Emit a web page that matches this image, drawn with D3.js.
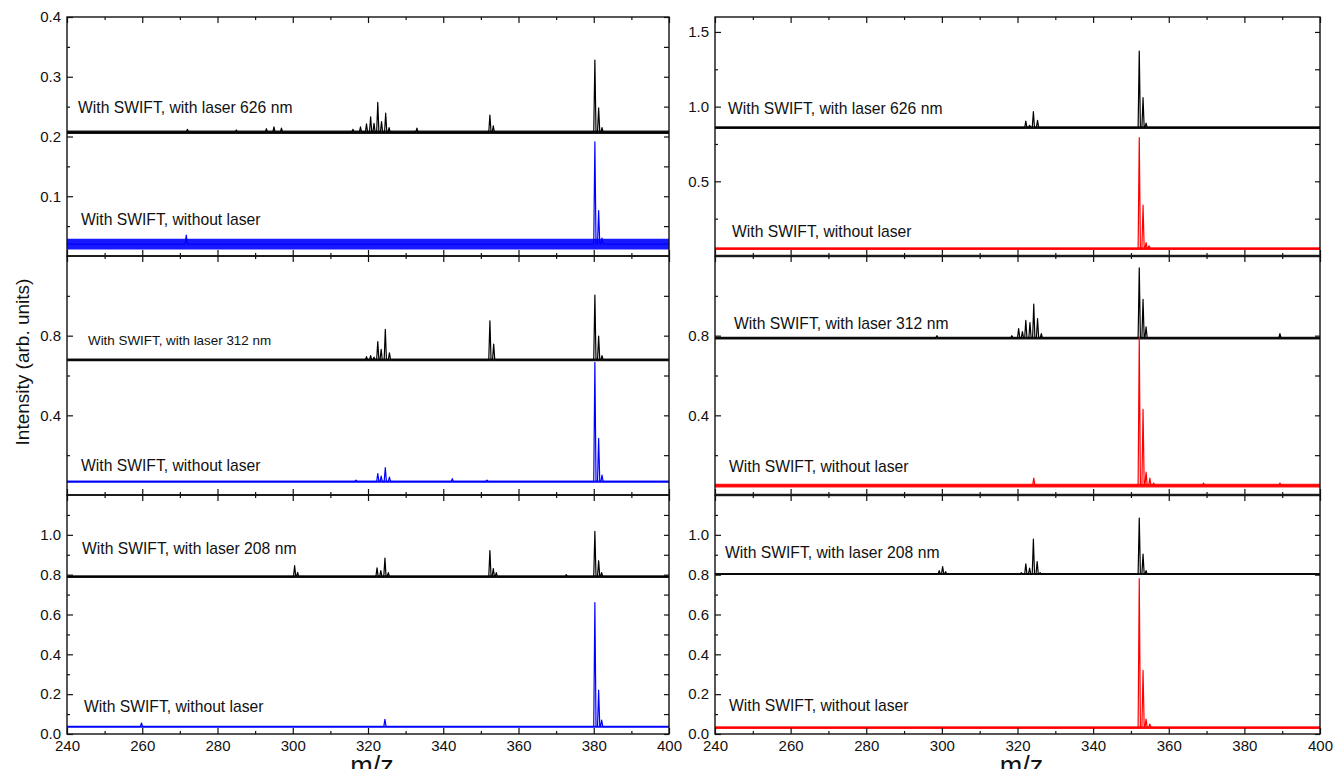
<!DOCTYPE html>
<html>
<head>
<meta charset="utf-8">
<script src="https://cdn.jsdelivr.net/npm/d3@7"></script>
<style>
    body { margin: 0; background: #fff; }
    svg { display: block; font-family: 'Liberation Sans', Arial, sans-serif; }
</style>
</head>
<body>
<div class="chart-container"></div>
<script>
// axis values
const mzDomain = [240, 400];
const mzMajor = [240, 260, 280, 300, 320, 340, 360, 380, 400];
const mzMinor = [250, 270, 290, 310, 330, 350, 370, 390];

// y domain top per row (left / right column)
const yMaxLeft = [0.4, 1.2, 1.2];
const yMaxRight = [1.6, 1.2, 1.2];
const yMajorLeft = [[0.1, 0.2, 0.3, 0.4], [0.4, 0.8], [0, 0.2, 0.4, 0.6, 0.8, 1.0]];
const yMinorLeft = [[0.05, 0.15, 0.25, 0.35], [0.2, 0.6, 1.0], [0.1, 0.3, 0.5, 0.7, 0.9, 1.1]];
const yMajorRight = [[0.5, 1.0, 1.5], [0.4, 0.8], [0, 0.2, 0.4, 0.6, 0.8, 1.0]];
const yMinorRight = [[0.25, 0.75, 1.25], [0.2, 0.6, 1.0], [0.1, 0.3, 0.5, 0.7, 0.9, 1.1]];

// trace labels
const laserLabels = ['With SWIFT, with laser 626 nm', 'With SWIFT, with laser 312 nm', 'With SWIFT, with laser 208 nm'];
const noLaserLabel = 'With SWIFT, without laser';

// baseline level and noise half-width per trace (laser, no laser, laser, ...)
const baseLeft = [0.207, 0.020, 0.678, 0.067, 0.790, 0.037];
const noiseLeft = [0.003, 0.009, 0.007, 0.006, 0.007, 0.005];
const baseRight = [0.859, 0.049, 0.788, 0.047, 0.803, 0.032];
const noiseRight = [0.009, 0.009, 0.007, 0.009, 0.005, 0.007];

// peaks [m/z, intensity]
const peaksLeft626 = [[272, 0.212], [285, 0.211], [293, 0.213], [295, 0.216], [297, 0.214], [316, 0.212],
    [318, 0.216], [319.6, 0.221], [320.7, 0.233], [321.6, 0.222], [322.6, 0.257], [323.6, 0.225],
    [324.7, 0.239], [325.6, 0.215], [333, 0.214], [352.4, 0.236], [353.3, 0.218],
    [380.3, 0.328], [381.3, 0.248], [382.2, 0.215]];
const peaksLeftOff1 = [[271.7, 0.035], [380.3, 0.191], [381.3, 0.076], [382.2, 0.030]];
const peaksLeft312 = [[319.6, 0.695], [320.7, 0.700], [321.6, 0.692], [322.6, 0.770], [323.5, 0.731],
    [324.6, 0.832], [325.7, 0.714], [352.4, 0.875], [353.4, 0.758],
    [380.3, 1.004], [381.3, 0.798], [382.2, 0.700]];
const peaksLeftOff2 = [[316.8, 0.075], [322.6, 0.108], [323.5, 0.095], [324.6, 0.137], [325.7, 0.090],
    [342.4, 0.082], [351.6, 0.075], [380.3, 0.666], [381.3, 0.285], [382.2, 0.100]];
const peaksLeft208 = [[300.5, 0.845], [301.3, 0.812], [322.4, 0.834], [323.4, 0.820], [324.5, 0.883],
    [325.4, 0.810], [352.4, 0.921], [353.3, 0.830], [354.1, 0.810], [372.7, 0.800],
    [380.3, 1.017], [381.3, 0.870], [382.1, 0.810]];
const peaksLeftOff3 = [[259.8, 0.055], [324.5, 0.074], [380.3, 0.660], [381.3, 0.220], [382.1, 0.070]];

const peaksRight626 = [[322.2, 0.903], [323.2, 0.875], [324.2, 0.966], [325.3, 0.908],
    [352.2, 1.372], [353.2, 1.060], [354.0, 0.890]];
const peaksRightOff1 = [[352.2, 0.792], [353.2, 0.341], [354.0, 0.090], [354.8, 0.068]];
const peaksRight312 = [[298.7, 0.800], [318.5, 0.800], [320.3, 0.835], [321.3, 0.820], [322.2, 0.877],
    [323.3, 0.866], [324.3, 0.958], [325.3, 0.886], [326.3, 0.810],
    [352.2, 1.140], [353.2, 0.982], [354.0, 0.844], [389.4, 0.810]];
const peaksRightOff2 = [[324.3, 0.085], [352.2, 0.790], [353.2, 0.430], [354.0, 0.115], [355.0, 0.085],
    [356.0, 0.060], [369.2, 0.060], [389.4, 0.060]];
const peaksRight208 = [[299.3, 0.820], [300.2, 0.840], [301.0, 0.815], [321.0, 0.810], [322.2, 0.854],
    [323.2, 0.833], [324.2, 0.978], [325.2, 0.866], [326.0, 0.810],
    [352.2, 1.084], [353.2, 0.903], [354.0, 0.820]];
const peaksRightOff3 = [[352.2, 0.780], [353.2, 0.320], [354.0, 0.075], [355.0, 0.050]];

// layout
const width = 1333;
const height = 769;
const rowEdges = [17, 256, 495, 734];
const peakHalfWidth = 0.3;

const columns = [
    {
        x0: 67, x1: 669,
        yMax: yMaxLeft, major: yMajorLeft, minor: yMinorLeft,
        base: baseLeft, noise: noiseLeft,
        peaks: [peaksLeft626, peaksLeftOff1, peaksLeft312, peaksLeftOff2, peaksLeft208, peaksLeftOff3],
        offColor: '#0000ff',
        dividerWidth: 1.4,
        // label placement: [dx from frame, dy from baseline, font size]
        labelPos: [[11, -25, 15.7], [14, -25, 15.7], [21, -19, 13.4], [14, -16, 15.7], [15, -28, 15.7], [17, -20, 15.7]]
    },
    {
        x0: 715, x1: 1320,
        yMax: yMaxRight, major: yMajorRight, minor: yMinorRight,
        base: baseRight, noise: noiseRight,
        peaks: [peaksRight626, peaksRightOff1, peaksRight312, peaksRightOff2, peaksRight208, peaksRightOff3],
        offColor: '#ff0000',
        dividerWidth: 2.4,
        labelPos: [[13, -19, 15.7], [17, -17, 15.7], [19, -15, 15.7], [14, -19, 15.7], [10, -22, 15.7], [14, -22, 15.7]]
    }
];

function tracePoints(base, peaks) {
    const pts = [[mzDomain[0], base], [mzDomain[1], base]];
    peaks.forEach(([mz, top]) => {
        pts.push([mz - peakHalfWidth, base], [mz, top], [mz + peakHalfWidth, base]);
    });
    return pts.sort((a, b) => a[0] - b[0]);
}

const svg = d3.select('.chart-container')
    .append('svg')
    .attr('width', width)
    .attr('height', height);

function styleAxis(g) {
    g.select('.domain').remove();
    g.selectAll('line').attr('stroke', '#111').attr('stroke-width', 1.2);
    g.selectAll('text')
        .attr('fill', '#111')
        .style('font-size', '15px')
        .style('font-family', "'Liberation Sans', Arial, sans-serif");
}

columns.forEach((col, ci) => {
    const xScale = d3.scaleLinear().domain(mzDomain).range([col.x0, col.x1]);

    [0, 1, 2].forEach(r => {
        const top = rowEdges[r];
        const bottom = rowEdges[r + 1];
        const yScale = d3.scaleLinear().domain([0, col.yMax[r]]).range([bottom, top]);

        const panel = svg.append('g').attr('class', `panel c${ci} r${r}`);
        const clipId = `clip-${ci}-${r}`;
        panel.append('clipPath').attr('id', clipId)
            .append('rect')
            .attr('x', col.x0).attr('y', top)
            .attr('width', col.x1 - col.x0).attr('height', bottom - top);

        const plot = panel.append('g').attr('clip-path', `url(#${clipId})`);

        // two traces: with laser (black), without laser (colour)
        [0, 1].forEach(k => {
            const i = r * 2 + k;
            const color = k === 0 ? '#000' : col.offColor;
            const base = col.base[i];
            const noise = col.noise[i];

            // noise band
            const band = d3.area()
                .x(d => xScale(d))
                .y0(yScale(base - noise))
                .y1(yScale(base + noise));
            plot.append('path')
                .attr('d', band(mzDomain))
                .attr('fill', color)
                .attr('opacity', 0.9);

            const lineGen = d3.line()
                .x(d => xScale(d[0]))
                .y(d => yScale(d[1]));
            plot.append('path')
                .attr('d', lineGen(tracePoints(base, col.peaks[i])))
                .attr('fill', 'none')
                .attr('stroke', color)
                .attr('stroke-width', 1.2)
                .attr('stroke-linejoin', 'round');

            // label
            const [dx, dy, fs] = col.labelPos[i];
            panel.append('text')
                .attr('x', col.x0 + dx)
                .attr('y', yScale(base) + dy)
                .attr('dominant-baseline', 'central')
                .style('font-size', `${fs}px`)
                .attr('fill', '#111')
                .text(k === 0 ? laserLabels[r] : noLaserLabel);
        });

        // x axes: top (inward) and bottom (inward)
        panel.append('g')
            .attr('transform', `translate(0, ${top})`)
            .call(d3.axisBottom(xScale).tickValues(mzMajor).tickSizeInner(6).tickSizeOuter(0).tickFormat(''))
            .call(styleAxis);
        panel.append('g')
            .attr('transform', `translate(0, ${top})`)
            .call(d3.axisBottom(xScale).tickValues(mzMinor).tickSizeInner(3).tickSizeOuter(0).tickFormat(''))
            .call(styleAxis);
        panel.append('g')
            .attr('transform', `translate(0, ${bottom})`)
            .call(d3.axisBottom(xScale).tickValues(mzMajor).tickSizeInner(-6).tickSizeOuter(0)
                .tickPadding(6).tickFormat(r === 2 ? d3.format('d') : ''))
            .call(styleAxis);
        panel.append('g')
            .attr('transform', `translate(0, ${bottom})`)
            .call(d3.axisBottom(xScale).tickValues(mzMinor).tickSizeInner(-3).tickSizeOuter(0).tickFormat(''))
            .call(styleAxis);

        // y axes: left labelled, right mirrored ticks
        panel.append('g')
            .attr('transform', `translate(${col.x0}, 0)`)
            .call(d3.axisLeft(yScale).tickValues(col.major[r]).tickSizeInner(-6).tickSizeOuter(0)
                .tickPadding(6).tickFormat(d3.format('.1f')))
            .call(styleAxis);
        panel.append('g')
            .attr('transform', `translate(${col.x0}, 0)`)
            .call(d3.axisLeft(yScale).tickValues(col.minor[r]).tickSizeInner(-3).tickSizeOuter(0).tickFormat(''))
            .call(styleAxis);
        panel.append('g')
            .attr('transform', `translate(${col.x1}, 0)`)
            .call(d3.axisLeft(yScale).tickValues(col.major[r].concat(col.minor[r])).tickSizeInner(5).tickSizeOuter(0).tickFormat(''))
            .call(styleAxis);

        // frame
        panel.append('rect')
            .attr('x', col.x0).attr('y', top)
            .attr('width', col.x1 - col.x0).attr('height', bottom - top)
            .attr('fill', 'none')
            .attr('stroke', '#111')
            .attr('stroke-width', 1.4);

        // divider to the next panel
        if (r < 2) {
            panel.append('line')
                .attr('x1', col.x0).attr('x2', col.x1)
                .attr('y1', bottom).attr('y2', bottom)
                .attr('stroke', '#333')
                .attr('stroke-width', col.dividerWidth);
        }
    });

    // x axis title
    svg.append('text')
        .attr('x', (col.x0 + col.x1) / 2 + 4)
        .attr('y', 775)
        .attr('text-anchor', 'middle')
        .style('font-size', '27px')
        .attr('fill', '#111')
        .text('m/z');
});

// y axis title
svg.append('text')
    .attr('transform', 'translate(22, 362) rotate(-90)')
    .attr('text-anchor', 'middle')
    .attr('dominant-baseline', 'central')
    .style('font-size', '19px')
    .attr('fill', '#111')
    .text('Intensity (arb. units)');
</script>
</body>
</html>
